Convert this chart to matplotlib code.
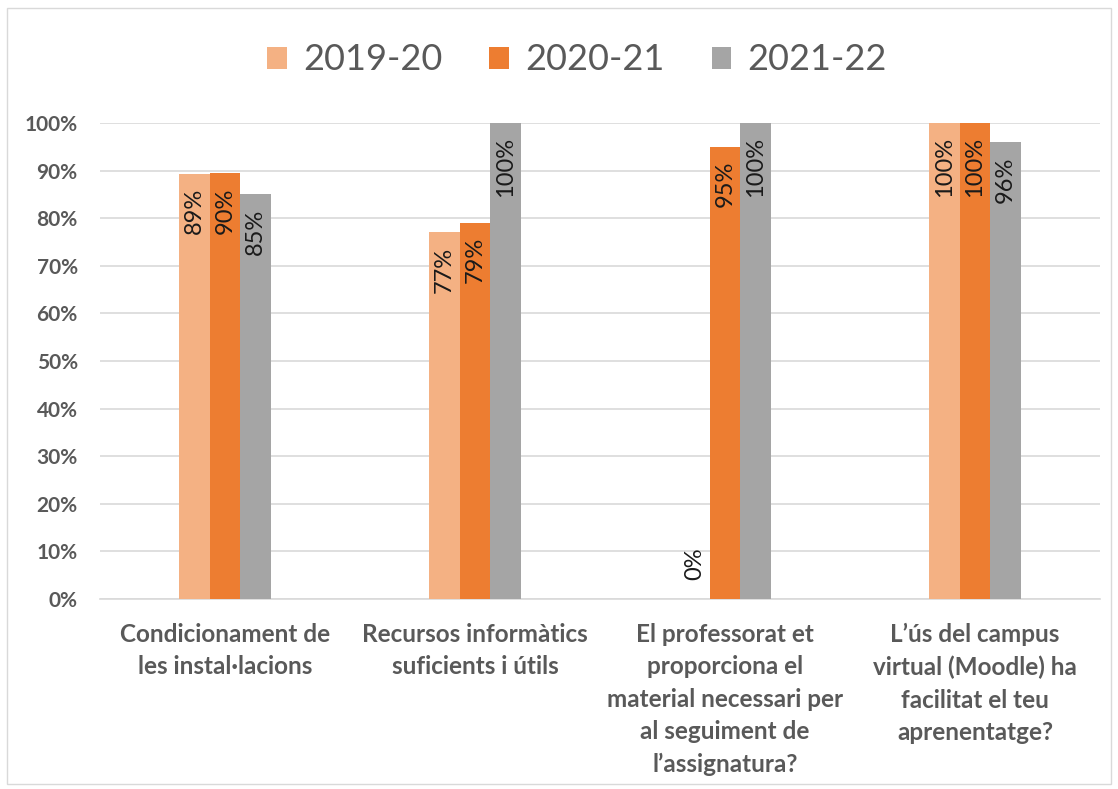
import matplotlib
matplotlib.use("Agg")
import matplotlib.pyplot as plt
import numpy as np
from matplotlib.patches import Rectangle

plt.rcParams['font.family'] = ['Lato', 'DejaVu Sans']

# data
categories = ["Condicionament de\nles instal·lacions",
              "Recursos informàtics\nsuficients i útils",
              "El professorat et\nproporciona el\nmaterial necessari per\nal seguiment de\nl’assignatura?",
              "L’ús del campus\nvirtual (Moodle) ha\nfacilitat el teu\naprenentatge?"]
years = ["2019-20", "2020-21", "2021-22"]
v1920 = [0.893, 0.77, 0.0, 1.0]
v2021 = [0.895, 0.79, 0.95, 1.0]
v2122 = [0.85, 1.0, 1.0, 0.96]
lbl1920 = ["89%", "77%", "0%", "100%"]
lbl2021 = ["90%", "79%", "95%", "100%"]
lbl2122 = ["85%", "100%", "100%", "96%"]
yticks = [0, 0.1, 0.2, 0.3, 0.4, 0.5, 0.6, 0.7, 0.8, 0.9, 1.0]
colors = ["#F4B183", "#ED7D31", "#A5A5A5"]

fig = plt.figure(figsize=(11.18, 7.89), dpi=100)
ax = fig.add_axes([0.0894, 0.2408, 0.8945, 0.6033])

x = np.arange(len(categories))
w = 0.122
series = [v1920, v2021, v2122]
labels = [lbl1920, lbl2021, lbl2122]
for i in range(3):
    xs = x + (i - 1) * w
    ax.bar(xs, series[i], width=w, color=colors[i], label=years[i], zorder=3)
    for j in range(len(categories)):
        v = series[i][j]
        if v > 0:
            ax.text(xs[j], v - 0.03, labels[i][j], rotation=90, ha='center', va='top',
                    fontsize=17, color='#1a1a1a', zorder=4)
        else:
            ax.text(xs[j], 0.04, labels[i][j], rotation=90, ha='center', va='bottom',
                    fontsize=17, color='#1a1a1a', zorder=4)

ax.set_xlim(-0.5, 3.5)
ax.set_ylim(0, 1.0)
ax.set_yticks(yticks)
ax.set_yticklabels([f"{int(round(t*100))}%" for t in yticks], fontsize=15,
                   fontweight='bold', color='#595959')
ax.set_xticks(x)
ax.set_xticklabels(categories, fontsize=17.5, fontweight='bold', color='#595959',
                   linespacing=1.5)
ax.tick_params(axis='both', length=0)
ax.tick_params(axis='y', pad=16)
ax.tick_params(axis='x', pad=17)
ax.yaxis.grid(True, color='#d9d9d9', linewidth=1.2, zorder=0)
ax.set_axisbelow(True)
for s in ['top', 'right', 'left']:
    ax.spines[s].set_visible(False)
ax.spines['bottom'].set_color('#d9d9d9')
ax.spines['bottom'].set_linewidth(1.2)

leg = fig.legend(loc='center', bbox_to_anchor=(0.516, 0.924), ncol=3, frameon=False,
                 fontsize=26, handlelength=0.55, handleheight=0.55, handletextpad=0.45,
                 columnspacing=1.3)
for t in leg.get_texts():
    t.set_color('#595959')

fig.patches.append(Rectangle((0.006, 0.006), 0.988, 0.984, transform=fig.transFigure,
                             fill=False, edgecolor='#d9d9d9', linewidth=1.0))

fig.savefig("out.png", dpi=100)
